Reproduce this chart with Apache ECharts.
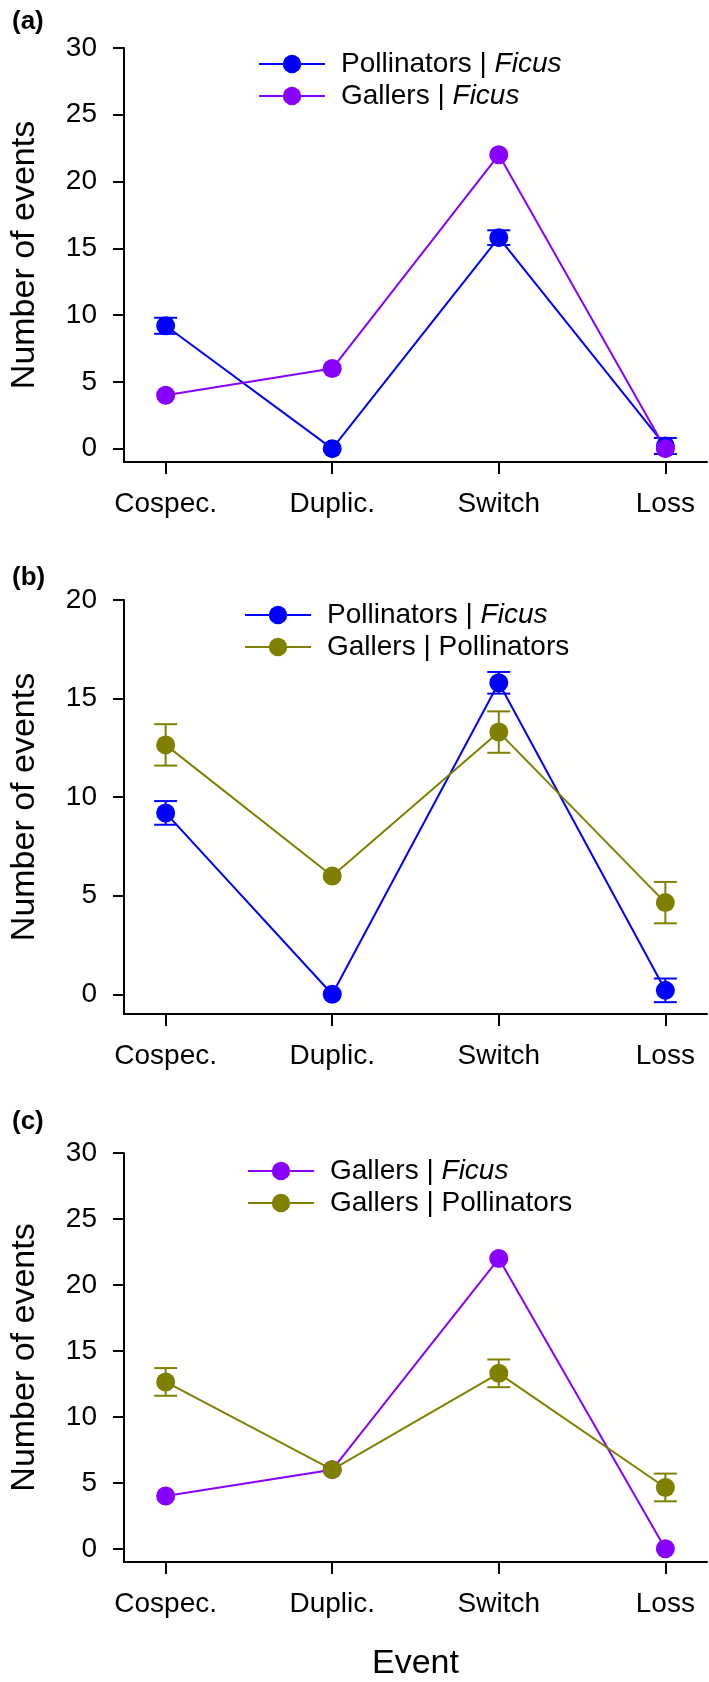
<!DOCTYPE html>
<html>
<head>
<meta charset="utf-8">
<script src="https://cdn.jsdelivr.net/npm/echarts@6/dist/echarts.min.js"></script>
<style>
  html, body { margin: 0; padding: 0; background: #fff; }
  #chart { width: 709px; height: 1682px; }
</style>
</head>
<body>
<div id="chart"></div>
<script>
// ---- data ----
const categories = ['Cospec.', 'Duplic.', 'Switch', 'Loss'];
const pollinatorsFicus = [9.2, 0, 15.8, 0.2];
const pollinatorsFicusErr = [0.6, 0, 0.55, 0.6];
const gallersFicus = [4, 6, 22, 0];
const gallersPollinators = [12.65, 6, 13.3, 4.65];
const gallersPollinatorsErr = [1.05, 0, 1.05, 1.05];
const yTicks30 = [0, 5, 10, 15, 20, 25, 30];
const yTicks20 = [0, 5, 10, 15, 20];
const panelLabels = ['(a)', '(b)', '(c)'];
const nameP = 'Pollinators | Ficus';
const nameGF = 'Gallers | Ficus';
const nameGP = 'Gallers | Pollinators';

// ---- styles ----
const FONT = '"Liberation Sans", Arial, Helvetica, sans-serif';
const BLUE = '#0000ff';
const PURPLE = '#8800ff';
const OLIVE = '#808000';

const chart = echarts.init(document.getElementById('chart'), null, { renderer: 'canvas' });

const gridTops = [48, 600, 1153];
const gridH = 414;

function toPts(vals) { return vals.map((v, i) => [i + 1, v]); }
function toErr(vals, errs) {
  return vals.map((v, i) => [i + 1, v - errs[i], v + errs[i], errs[i]]).filter(d => d[3] > 0);
}

function lineSeries(name, vals, color, idx) {
  return {
    name: name, type: 'line', xAxisIndex: idx, yAxisIndex: idx,
    data: toPts(vals), symbol: 'circle', symbolSize: 19,
    itemStyle: { color: color }, lineStyle: { color: color, width: 2 },
    z: 3, animation: false
  };
}
function errSeries(name, vals, errs, color, idx) {
  return {
    name: name + ' err', type: 'custom', xAxisIndex: idx, yAxisIndex: idx,
    data: toErr(vals, errs), z: 2, animation: false,
    renderItem: function (params, api) {
      const x = api.value(0);
      const lo = api.coord([x, api.value(1)]);
      const hi = api.coord([x, api.value(2)]);
      const hw = 11.5;
      const st = { stroke: color, lineWidth: 2 };
      return {
        type: 'group',
        children: [
          { type: 'line', shape: { x1: lo[0], y1: lo[1], x2: hi[0], y2: hi[1] }, style: st },
          { type: 'line', shape: { x1: lo[0] - hw, y1: lo[1], x2: lo[0] + hw, y2: lo[1] }, style: st },
          { type: 'line', shape: { x1: hi[0] - hw, y1: hi[1], x2: hi[0] + hw, y2: hi[1] }, style: st }
        ]
      };
    }
  };
}

function xAxisDef(idx, withName) {
  const ax = {
    type: 'value', gridIndex: idx, min: 0.75, max: 4.25,
    axisLine: { show: true, onZero: false, lineStyle: { color: '#000', width: 2 } },
    axisTick: { show: true, customValues: [1, 2, 3, 4], length: 12, lineStyle: { color: '#000', width: 2 } },
    axisLabel: {
      customValues: [1, 2, 3, 4], margin: 28, fontSize: 28, color: '#000', fontFamily: FONT,
      formatter: v => categories[Math.round(v) - 1]
    },
    splitLine: { show: false }
  };
  if (withName) {
    ax.name = 'Event';
    ax.nameLocation = 'middle';
    ax.nameGap = 85;
    ax.nameTextStyle = { fontSize: 34, color: '#000', fontFamily: FONT };
  }
  return ax;
}
function yAxisDef(idx, ticks) {
  return {
    type: 'value', gridIndex: idx, min: -1, max: ticks[ticks.length - 1],
    name: 'Number of events', nameLocation: 'middle', nameGap: 82,
    nameTextStyle: { fontSize: 34, color: '#000', fontFamily: FONT },
    axisLine: { show: true, onZero: false, lineStyle: { color: '#000', width: 2 } },
    axisTick: { show: true, customValues: ticks, length: 11, lineStyle: { color: '#000', width: 2 } },
    axisLabel: { customValues: ticks, margin: 27, fontSize: 28, color: '#000', fontFamily: FONT },
    splitLine: { show: false }
  };
}

function legendDef(names, left, rowCenter) {
  return {
    data: names, orient: 'vertical', left: left, top: rowCenter - 14,
    itemWidth: 66, itemHeight: 23, itemGap: 4, padding: 0,
    selectedMode: false,
    textStyle: {
      fontSize: 28, lineHeight: 28, color: '#000', fontFamily: FONT, padding: [0, 0, 0, 11],
      rich: {
        n: { fontSize: 28, lineHeight: 28, color: '#000', fontFamily: FONT },
        i: { fontSize: 28, lineHeight: 28, color: '#000', fontFamily: FONT, fontStyle: 'italic' }
      }
    },
    formatter: function (name) {
      const k = name.indexOf('| ');
      const head = name.slice(0, k + 2);
      const tail = name.slice(k + 2);
      return '{n|' + head + '}' + (tail === 'Ficus' ? '{i|' + tail + '}' : '{n|' + tail + '}');
    }
  };
}

const option = {
  backgroundColor: '#fff',
  animation: false,
  title: panelLabels.map((t, i) => ({
    text: t, left: 12, top: [9, 565, 1109][i], padding: 0,
    textStyle: { fontSize: 26, fontWeight: 'bold', color: '#000', fontFamily: FONT }
  })),
  legend: [
    legendDef([nameP, nameGF], 258, 64),
    legendDef([nameP, nameGP], 244, 615),
    legendDef([nameGF, nameGP], 247, 1171)
  ],
  grid: gridTops.map(t => ({ left: 116, right: 2, top: t, height: gridH, containLabel: false })),
  xAxis: [xAxisDef(0, false), xAxisDef(1, false), xAxisDef(2, true)],
  yAxis: [yAxisDef(0, yTicks30), yAxisDef(1, yTicks20), yAxisDef(2, yTicks30)],
  series: [
    errSeries(nameP, pollinatorsFicus, pollinatorsFicusErr, BLUE, 0),
    lineSeries(nameP, pollinatorsFicus, BLUE, 0),
    lineSeries(nameGF, gallersFicus, PURPLE, 0),

    errSeries(nameP, pollinatorsFicus, pollinatorsFicusErr, BLUE, 1),
    errSeries(nameGP, gallersPollinators, gallersPollinatorsErr, OLIVE, 1),
    lineSeries(nameP, pollinatorsFicus, BLUE, 1),
    lineSeries(nameGP, gallersPollinators, OLIVE, 1),

    errSeries(nameGP, gallersPollinators, gallersPollinatorsErr, OLIVE, 2),
    lineSeries(nameGF, gallersFicus, PURPLE, 2),
    lineSeries(nameGP, gallersPollinators, OLIVE, 2)
  ]
};
chart.setOption(option);
</script>
</body>
</html>
